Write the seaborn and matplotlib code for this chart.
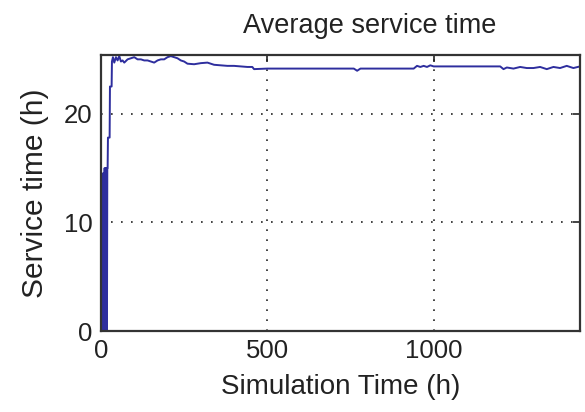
import numpy as np
import pandas as pd
import matplotlib
matplotlib.use("Agg")
import matplotlib.pyplot as plt
import seaborn as sns

# simulation time (h) and running average service time (h)
sim_time = [0, 1, 2, 3, 4, 5, 6, 7, 8, 9, 10, 11, 12, 13, 14, 15, 16, 17, 18, 19,
            20, 21, 26, 27, 32, 33, 36,
            40, 45, 50, 55, 60, 65, 70, 80, 90, 100, 110, 120, 130, 140, 150,
            160, 170, 180, 190, 200, 210, 220, 230, 240, 250,
            260, 280, 300, 320, 340, 360, 380, 400, 420, 440, 455, 460,
            500, 600, 700, 760, 770, 780, 850, 940, 950, 960, 970, 980, 990,
            1000, 1100, 1200, 1210, 1220, 1240, 1260, 1280, 1300, 1320, 1340,
            1360, 1380, 1400, 1420, 1440]
avg_service = [0, 14, 0, 14, 0, 14.5, 0, 14, 0, 14.5, 0, 15, 0, 14.5, 0, 15, 0, 15, 0, 15,
               15, 17.8, 17.8, 22.5, 22.5, 24.8, 25.2,
               24.7, 25.2, 24.9, 25.3, 24.8, 24.9, 24.7, 25.0, 25.1, 25.2, 25.0, 25.0, 24.9,
               24.9, 24.8, 24.7, 24.9, 25.0, 25.0, 25.2, 25.3, 25.2, 25.1, 24.9, 24.8,
               24.6, 24.55, 24.65, 24.7, 24.5, 24.45, 24.4, 24.4, 24.35, 24.3, 24.3, 24.1,
               24.15, 24.15, 24.15, 24.15, 23.95, 24.15, 24.15, 24.15, 24.4, 24.3, 24.4,
               24.3, 24.45, 24.35, 24.35, 24.35, 24.1, 24.25, 24.15, 24.3, 24.2, 24.2,
               24.3, 24.1, 24.3, 24.2, 24.4, 24.2, 24.35]

x_ticks = [0, 500, 1000]
y_ticks = [0, 10, 20]

df = pd.DataFrame({"t": sim_time, "s": avg_service})

sns.set_style("white")
plt.rcParams["font.family"] = ["Liberation Sans", "DejaVu Sans"]

fig, ax = plt.subplots(figsize=(5.85, 4.12), dpi=100)
fig.subplots_adjust(left=0.1726, right=0.9915, bottom=0.1966, top=0.8665)

sns.lineplot(data=df, x="t", y="s", ax=ax, color="#2e2e9e", linewidth=1.4)

ax.set_xlim(0, 1440)
ax.set_ylim(0, 25.4)
ax.set_xticks(x_ticks)
ax.set_yticks(y_ticks)
ax.tick_params(direction="in", length=5, width=1.2, top=True, right=True,
               labelsize=18.5, pad=6, colors="#222222")
ax.grid(True, linestyle=(0, (1, 5)), color="#222222", linewidth=1.2)
for sp in ax.spines.values():
    sp.set_color("#333333")
    sp.set_linewidth(1.6)

ax.set_title("Average service time", fontsize=19.5, x=0.56, pad=16, color="#222222")
ax.set_xlabel("Simulation Time (h)", fontsize=20, labelpad=8, color="#222222")
ax.set_ylabel("Service time (h)", fontsize=21.5, labelpad=11, color="#222222")

fig.savefig("out.png", dpi=100)
